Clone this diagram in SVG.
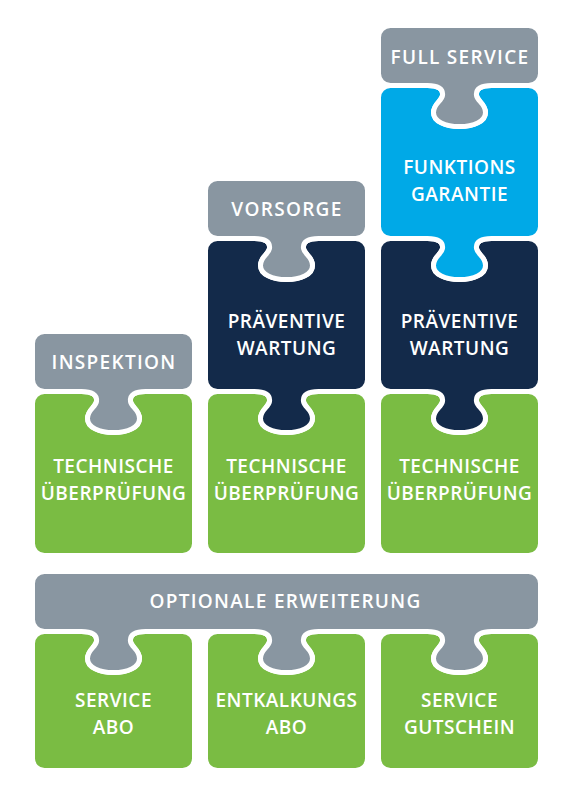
<svg xmlns="http://www.w3.org/2000/svg" xmlns:xlink="http://www.w3.org/1999/xlink" width="572" height="800" viewBox="0 0 572 800">
  <style>
    .pc { stroke: #ffffff; stroke-width: 5; stroke-linejoin: round; }
    .grey { fill: #8996A1; }
    .green { fill: #7ABC43; }
    .navy { fill: #132A4A; }
    .blue { fill: #00A9E7; }
    .t { fill: #ffffff; font-family: "Open Sans", "Noto Sans", "DejaVu Sans", sans-serif; font-weight: 600; font-size: 19px; letter-spacing: 0.5px; text-anchor: middle; }
    .lbl { letter-spacing: 1.3px; }
  </style>
  <defs>
    <path id="cap" d="M -69,0 H 69 A 12 12 0 0 1 81,12 V 48 A 12 12 0 0 1 69,60 H 32 c -10,0 -16,3 -15,10 c 1,6 9,8 9,17 c 0,9 -12,14 -26,14 c -14,0 -26,-5 -26,-14 c 0,-9 8,-11 9,-17 c 1,-7 -5,-10 -15,-10 H -69 A 12 12 0 0 1 -81,48 V 12 A 12 12 0 0 1 -69,0 Z"/>
    <path id="mid" d="M -81,12 A 12 12 0 0 1 -69,0 H -32 c 10,0 16,3 15,10 c -1,6 -9,8 -9,17 c 0,9 12,14 26,14 c 14,0 26,-5 26,-14 c 0,-9 -8,-11 -9,-17 c -1,-7 5,-10 15,-10 H 69 A 12 12 0 0 1 81,12 V 141 A 12 12 0 0 1 69,153 H 32 c -10,0 -16,3 -15,10 c 1,6 9,8 9,17 c 0,9 -12,14 -26,14 c -14,0 -26,-5 -26,-14 c 0,-9 8,-11 9,-17 c 1,-7 -5,-10 -15,-10 H -69 A 12 12 0 0 1 -81,141 Z"/>
    <path id="base" d="M -81,12 A 12 12 0 0 1 -69,0 H -32 c 10,0 16,3 15,10 c -1,6 -9,8 -9,17 c 0,9 12,14 26,14 c 14,0 26,-5 26,-14 c 0,-9 -8,-11 -9,-17 c -1,-7 5,-10 15,-10 H 69 A 12 12 0 0 1 81,12 V 152 A 12 12 0 0 1 69,164 H -69 A 12 12 0 0 1 -81,152 Z"/>
    <path id="small" d="M -81,12 A 12 12 0 0 1 -69,0 H -32 c 10,0 16,3 15,10 c -1,6 -9,8 -9,17 c 0,9 12,14 26,14 c 14,0 26,-5 26,-14 c 0,-9 -8,-11 -9,-17 c -1,-7 5,-10 15,-10 H 69 A 12 12 0 0 1 81,12 V 127 A 12 12 0 0 1 69,139 H -69 A 12 12 0 0 1 -81,127 Z"/>
  </defs>

  <g id="col1-technische">
    <use xlink:href="#base" href="#base" class="pc green" transform="translate(113.5,391.5)"/>
    <text class="t" x="113.5" y="473">TECHNISCHE</text>
    <text class="t" x="113.5" y="500">ÜBERPRÜFUNG</text>
  </g>
  <g id="col1-inspektion">
    <use xlink:href="#cap" href="#cap" class="pc grey" transform="translate(113.5,331.5)"/>
    <text class="t lbl" x="114" y="368.5">INSPEKTION</text>
  </g>

  <g id="col2-technische">
    <use xlink:href="#base" href="#base" class="pc green" transform="translate(286.5,391.5)"/>
    <text class="t" x="286.5" y="473">TECHNISCHE</text>
    <text class="t" x="286.5" y="500">ÜBERPRÜFUNG</text>
  </g>
  <g id="col2-wartung">
    <use xlink:href="#mid" href="#mid" class="pc navy" transform="translate(286.5,238.5)"/>
    <text class="t" x="286.5" y="328">PRÄVENTIVE</text>
    <text class="t" x="286.5" y="355">WARTUNG</text>
  </g>
  <g id="col2-vorsorge">
    <use xlink:href="#cap" href="#cap" class="pc grey" transform="translate(286.5,178.5)"/>
    <text class="t lbl" x="287" y="216">VORSORGE</text>
  </g>

  <g id="col3-technische">
    <use xlink:href="#base" href="#base" class="pc green" transform="translate(459.5,391.5)"/>
    <text class="t" x="459.5" y="473">TECHNISCHE</text>
    <text class="t" x="459.5" y="500">ÜBERPRÜFUNG</text>
  </g>
  <g id="col3-wartung">
    <use xlink:href="#mid" href="#mid" class="pc navy" transform="translate(459.5,238.5)"/>
    <text class="t" x="459.5" y="328">PRÄVENTIVE</text>
    <text class="t" x="459.5" y="355">WARTUNG</text>
  </g>
  <g id="col3-garantie">
    <use xlink:href="#mid" href="#mid" class="pc blue" transform="translate(459.5,85.5)"/>
    <text class="t" x="459.5" y="174">FUNKTIONS</text>
    <text class="t" x="459.5" y="201">GARANTIE</text>
  </g>
  <g id="col3-fullservice">
    <use xlink:href="#cap" href="#cap" class="pc grey" transform="translate(459.5,25.5)"/>
    <text class="t lbl" x="460" y="64">FULL SERVICE</text>
  </g>

  <g id="service-abo">
    <use xlink:href="#small" href="#small" class="pc green" transform="translate(113.5,631.5)"/>
    <text class="t" x="113.5" y="707">SERVICE</text>
    <text class="t" x="113.5" y="734">ABO</text>
  </g>
  <g id="entkalkungs-abo">
    <use xlink:href="#small" href="#small" class="pc green" transform="translate(286.5,631.5)"/>
    <text class="t" x="286.5" y="707">ENTKALKUNGS</text>
    <text class="t" x="286.5" y="734">ABO</text>
  </g>
  <g id="service-gutschein">
    <use xlink:href="#small" href="#small" class="pc green" transform="translate(459.5,631.5)"/>
    <text class="t" x="459.5" y="707">SERVICE</text>
    <text class="t" x="459.5" y="734">GUTSCHEIN</text>
  </g>
  <g id="optionale-erweiterung">
    <path class="pc grey" d="M 44.5,571.5 H 528.5 A 12 12 0 0 1 540.5,583.5 V 619.5 A 12 12 0 0 1 528.5,631.5 H 491.5 c -10,0 -16,3 -15,10 c 1,6 9,8 9,17 c 0,9 -12,14 -26,14 c -14,0 -26,-5 -26,-14 c 0,-9 8,-11 9,-17 c 1,-7 -5,-10 -15,-10 H 318.5 c -10,0 -16,3 -15,10 c 1,6 9,8 9,17 c 0,9 -12,14 -26,14 c -14,0 -26,-5 -26,-14 c 0,-9 8,-11 9,-17 c 1,-7 -5,-10 -15,-10 H 145.5 c -10,0 -16,3 -15,10 c 1,6 9,8 9,17 c 0,9 -12,14 -26,14 c -14,0 -26,-5 -26,-14 c 0,-9 8,-11 9,-17 c 1,-7 -5,-10 -15,-10 H 44.5 A 12 12 0 0 1 32.5,619.5 V 583.5 A 12 12 0 0 1 44.5,571.5 Z"/>
    <text class="t lbl" x="285.5" y="607.5">OPTIONALE ERWEITERUNG</text>
  </g>
  <g id="connectors"></g>
</svg>
